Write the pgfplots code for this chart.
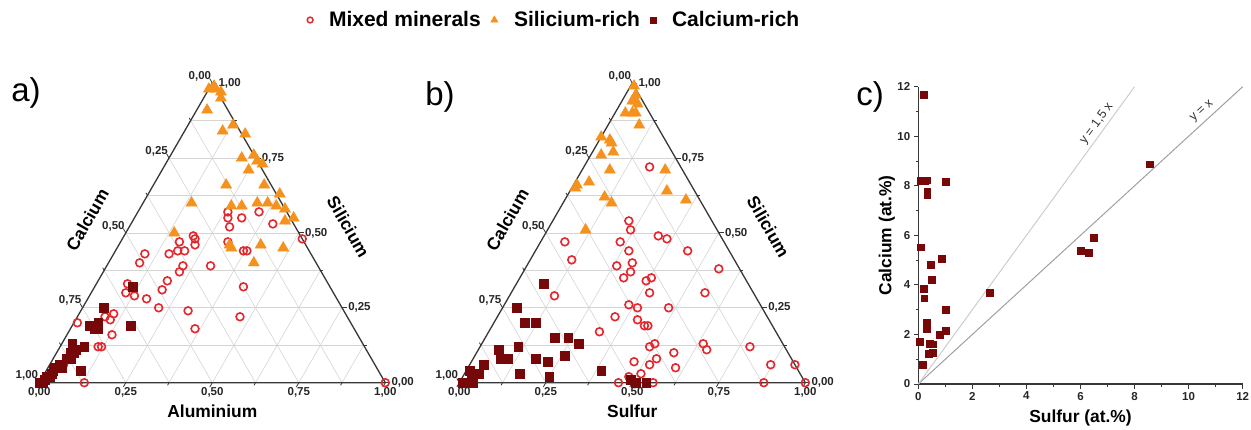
\documentclass[border=0pt]{standalone}
\usepackage{pgfplots}
\usepackage{pgfplotstable}
\pgfplotsset{compat=1.18}
\usepackage{fontspec}
\setmainfont{Liberation Sans}
\definecolor{cred}{RGB}{228,38,45}
\definecolor{corange}{RGB}{245,146,30}
\definecolor{cdark}{RGB}{118,8,10}
\definecolor{cgrid}{RGB}{212,212,212}
\definecolor{cedge}{RGB}{55,55,55}

% ---------- panel a: (Al, Si) fractions, Ca = 1 - Al - Si ----------
\pgfplotstableread[row sep=\\]{
A Si\\
0.26 0.57\\ 0.27 0.55\\ 0.31 0.55\\ 0.35 0.57\\ 0.41 0.53\\ 0.29 0.52\\
0.20 0.49\\ 0.21 0.48\\ 0.22 0.46\\ 0.17 0.47\\ 0.16 0.43\\ 0.18 0.44\\
0.20 0.44\\ 0.09 0.43\\ 0.09 0.40\\ 0.31 0.47\\ 0.37 0.44\\ 0.38 0.44\\
0.30 0.39\\ 0.22 0.39\\ 0.22 0.37\\ 0.20 0.34\\ 0.09 0.33\\ 0.10 0.30\\
0.13 0.29\\ 0.17 0.28\\ 0.20 0.31\\ 0.22 0.25\\ 0.31 0.24\\ 0.43 0.32\\
0.47 0.22\\ 0.36 0.18\\ 0.10 0.23\\ 0.08 0.22\\ 0.10 0.21\\ 0.01 0.20\\
0.13 0.16\\ 0.11 0.12\\ 0.12 0.12\\ 0.52 0.48\\ 0.13 0.00\\ 1.00 0.00\\
0.04 0.06\\
}\mixA
\pgfplotstableread[row sep=\\]{
A Si\\
0.01 0.99\\ 0.00 0.98\\ 0.02 0.98\\ 0.04 0.97\\ 0.05 0.95\\ 0.03 0.91\\
0.11 0.84\\ 0.13 0.86\\ 0.18 0.83\\ 0.21 0.75\\ 0.24 0.76\\ 0.26 0.74\\
0.28 0.73\\ 0.25 0.71\\ 0.21 0.66\\ 0.32 0.66\\ 0.38 0.63\\ 0.14 0.60\\
0.26 0.59\\ 0.29 0.59\\ 0.33 0.60\\ 0.36 0.60\\ 0.39 0.59\\ 0.42 0.58\\
0.44 0.54\\ 0.46 0.55\\ 0.14 0.50\\ 0.32 0.46\\ 0.33 0.45\\ 0.41 0.46\\
0.48 0.45\\ 0.42 0.40\\
}\siA
\pgfplotstableread[row sep=\\]{
A Si\\
0.11 0.32\\ 0.06 0.25\\ 0.17 0.19\\ 0.05 0.19\\ 0.07 0.18\\ 0.07 0.20\\
0.08 0.18\\ 0.03 0.13\\ 0.05 0.11\\ 0.07 0.12\\ 0.04 0.10\\ 0.05 0.10\\
0.05 0.08\\ 0.04 0.08\\ 0.03 0.06\\ 0.04 0.05\\ 0.10 0.04\\ 0.02 0.05\\
0.02 0.04\\ 0.02 0.03\\ 0.02 0.02\\ 0.01 0.02\\ 0.01 0.01\\ 0.01 0.00\\
0.00 0.00\\
}\caA
% ---------- panel b: (S, Si) fractions, Ca = 1 - S - Si ----------
\pgfplotstableread[row sep=\\]{
A Si\\
0.19 0.72\\ 0.22 0.54\\ 0.24 0.51\\ 0.33 0.49\\ 0.36 0.48\\ 0.07 0.47\\
0.23 0.47\\ 0.27 0.44\\ 0.12 0.41\\ 0.44 0.44\\ 0.30 0.40\\ 0.26 0.39\\
0.31 0.37\\ 0.56 0.38\\ 0.30 0.35\\ 0.37 0.34\\ 0.38 0.35\\ 0.40 0.30\\
0.56 0.30\\ 0.13 0.29\\ 0.36 0.26\\ 0.39 0.25\\ 0.48 0.25\\ 0.34 0.22\\
0.41 0.21\\ 0.44 0.19\\ 0.45 0.19\\ 0.32 0.17\\ 0.50 0.13\\ 0.49 0.12\\
0.64 0.13\\ 0.66 0.11\\ 0.78 0.12\\ 0.57 0.10\\ 0.53 0.08\\ 0.47 0.07\\
0.52 0.06\\ 0.60 0.05\\ 0.87 0.06\\ 0.94 0.06\\ 0.48 0.02\\ 0.51 0.03\\
0.46 0.00\\ 0.56 0.00\\ 0.88 0.00\\ 1.00 0.00\\
}\mixB
\pgfplotstableread[row sep=\\]{
A Si\\
0.01 0.99\\ 0.03 0.96\\ 0.04 0.94\\ 0.05 0.93\\ 0.03 0.94\\ 0.03 0.90\\
0.05 0.90\\ 0.06 0.90\\ 0.09 0.86\\ 0.00 0.82\\ 0.03 0.81\\ 0.04 0.80\\
0.06 0.77\\ 0.03 0.76\\ 0.08 0.71\\ 0.24 0.71\\ 0.01 0.66\\ 0.01 0.65\\
0.04 0.67\\ 0.11 0.62\\ 0.14 0.60\\ 0.28 0.64\\ 0.35 0.61\\ 0.11 0.51\\
}\siB
\pgfplotstableread[row sep=\\]{
A Si\\
0.08 0.33\\ 0.04 0.25\\ 0.09 0.20\\ 0.12 0.20\\ 0.20 0.15\\ 0.24 0.15\\
0.28 0.13\\ 0.06 0.11\\ 0.08 0.08\\ 0.10 0.08\\ 0.11 0.12\\ 0.18 0.08\\
0.22 0.07\\ 0.26 0.09\\ 0.16 0.03\\ 0.25 0.02\\ 0.39 0.04\\ 0.04 0.06\\
0.04 0.03\\ 0.01 0.04\\ 0.03 0.01\\ 0.01 0.00\\ 0.02 0.00\\ 0.04 0.00\\
0.49 0.01\\ 0.51 0.00\\ 0.54 0.00\\
}\caB
% ---------- panel c: Sulfur vs Calcium (at.%) ----------
\pgfplotstableread[row sep=\\]{
S Ca\\
0.19 11.69\\ 0.10 8.21\\ 0.25 8.21\\ 0.33 8.23\\ 1.01 8.17\\ 0.33 7.76\\
0.33 7.63\\ 0.10 5.52\\ 0.46 4.80\\ 0.86 5.07\\ 0.49 4.22\\ 0.21 3.86\\
0.22 3.46\\ 2.63 3.70\\ 1.02 2.99\\ 0.31 2.49\\ 0.31 2.21\\ 1.02 2.15\\
0.78 1.98\\ 0.06 1.70\\ 0.41 1.64\\ 0.52 1.61\\ 0.37 1.21\\ 0.52 1.26\\
0.15 0.79\\ 6.02 5.37\\ 6.29 5.30\\ 6.48 5.92\\ 8.57 8.87\\
}\scat

\tikzset{tl/.style={font=\fontsize{11.5}{12}\selectfont\bfseries, text=black!85, inner sep=0pt},
  tlab/.style={font=\fontsize{17.4}{20}\selectfont\bfseries}}

\newcommand{\ternframe}[3]{%
\begin{scope}[shift={(#1,#2)}, x=346pt, y=346pt]
 \foreach \i in {1,...,7}{
   \pgfmathsetmacro{\s}{\i/8}
   \draw[cgrid, line width=0.6pt] ({\s/2},{0.8660254*\s}) -- ({1-\s/2},{0.8660254*\s});
   \draw[cgrid, line width=0.6pt] (\s,0) -- ({(1+\s)/2},{0.8660254*(1-\s)});
   \draw[cgrid, line width=0.6pt] ({1-\s},0) -- ({(1-\s)/2},{0.8660254*(1-\s)});
 }
 \foreach \i in {0,...,8}{
   \pgfmathsetmacro{\s}{\i/8}
   \pgfmathsetmacro{\tk}{mod(\i,2)==0 ? 5 : 3}
   \draw[cedge, line width=0.8pt] (\s,0) -- ++(240:\tk pt);
   \draw[cedge, line width=0.8pt] ({1-\s/2},{0.8660254*\s}) -- ++(0:\tk pt);
   \draw[cedge, line width=0.8pt] ({\s/2},{0.8660254*\s}) -- ++(120:\tk pt);
 }
 \draw[cedge, line width=1.3pt, line join=round] (0,0) -- (1,0) -- (0.5,0.8660254) -- cycle;
 \foreach \v/\t in {0/{0,00},0.25/{0,25},0.5/{0,50},0.75/{0,75},1/{1,00}}{
   \node[tl, anchor=north, yshift=-4.5pt] at (\v,0) {\t};
   \node[tl, anchor=west, xshift=6pt] at ({1-\v/2},{0.8660254*\v}) {\t};
   \node[tl, anchor=east, xshift=-1pt, yshift=7pt] at ({(1-\v)/2},{0.8660254*(1-\v)}) {\t};
 }
 \node[tlab] at (0.5,-0.084) {#3};
 \node[tlab, rotate=60] at (0.139,0.471) {Calcium};
 \node[tlab, rotate=-60] at (0.893,0.451) {Silicium};
\end{scope}}

\pgfplotsset{tern/.style={anchor=south west, scale only axis, width=346pt, height=299.65pt,
  xmin=0, xmax=1, ymin=0, ymax=0.8660254, hide axis, clip=false},
  mixst/.style={only marks, mark=o, mark size=3.9pt, cred, line width=1.6pt},
  sist/.style={only marks, mark=triangle*, mark size=6.4pt, corange},
  cast/.style={only marks, mark=square*, mark size=4.4pt, cdark}}

\begin{document}
\begin{tikzpicture}
\useasboundingbox (0,0) rectangle (1251pt,429pt);
\ternframe{39.3pt}{46.3pt}{Aluminium}
\ternframe{459.3pt}{46.3pt}{Sulfur}

\begin{axis}[tern, at={(39.3pt,46.3pt)},
  legend style={at={(1.4883,1.2104)}, anchor=center, draw=none, fill=none,
    font=\fontsize{21}{24}\selectfont\bfseries, inner sep=0pt,
    /tikz/every odd column/.append style={column sep=14pt},
    /tikz/every even column/.append style={column sep=8pt}},
  legend columns=3]
  \addlegendimage{only marks, mark=o, mark size=2.9pt, cred, line width=1.5pt}
  \addlegendentry{Mixed minerals}
  \addlegendimage{only marks, mark=triangle*, mark size=4.2pt, corange}
  \addlegendentry{Silicium-rich}
  \addlegendimage{only marks, mark=square*, mark size=3pt, cdark}
  \addlegendentry{Calcium-rich}
  \addplot[mixst, forget plot] table[x expr=\thisrow{A}+0.5*\thisrow{Si}, y expr=0.8660254*\thisrow{Si}] {\mixA};
  \addplot[sist, forget plot] table[x expr=\thisrow{A}+0.5*\thisrow{Si}, y expr=0.8660254*\thisrow{Si}] {\siA};
  \addplot[cast, forget plot] table[x expr=\thisrow{A}+0.5*\thisrow{Si}, y expr=0.8660254*\thisrow{Si}] {\caA};
\end{axis}

\begin{axis}[tern, at={(459.3pt,46.3pt)}]
  \addplot[mixst] table[x expr=\thisrow{A}+0.5*\thisrow{Si}, y expr=0.8660254*\thisrow{Si}] {\mixB};
  \addplot[sist] table[x expr=\thisrow{A}+0.5*\thisrow{Si}, y expr=0.8660254*\thisrow{Si}] {\siB};
  \addplot[cast] table[x expr=\thisrow{A}+0.5*\thisrow{Si}, y expr=0.8660254*\thisrow{Si}] {\caB};
\end{axis}

\begin{axis}[at={(918.3pt,45pt)}, anchor=south west, scale only axis,
  width=324.4pt, height=297.3pt, xmin=0, xmax=12, ymin=0, ymax=12,
  axis x line*=bottom, axis y line*=left,
  axis line style={-, cedge, line width=1.2pt},
  xtick={0,2,...,12}, ytick={0,2,...,12},
  minor xtick={1,3,...,11}, minor ytick={1,3,...,11},
  tick align=outside, major tick length=4.5pt, minor tick length=2.5pt,
  tick style={cedge, line width=0.9pt},
  ticklabel style={font=\fontsize{11.5}{12}\selectfont\bfseries, text=black!85},
  /pgf/number format/assume math mode=true,
  xlabel={Sulfur (at.\%)}, ylabel={Calcium (at.\%)},
  label style={font=\fontsize{17.4}{20}\selectfont\bfseries},
  xlabel style={at={(axis description cs:0.5,-0.114)}, anchor=center},
  ylabel style={at={(axis description cs:-0.097,0.5)}, anchor=center},
  clip=false]
  \addplot[gray!75, line width=1pt] coordinates {(0,0) (12,12)};
  \addplot[gray!40, line width=1pt] coordinates {(0,0) (8,12)};
  \addplot[only marks, mark=square*, mark size=3.4pt, cdark] table[x=S, y=Ca] {\scat};
  \node[font=\fontsize{12.5}{13}\selectfont, text=black!80, rotate=54] at (axis cs:6.6,10.5) {y = 1,5 x};
  \node[font=\fontsize{12.5}{13}\selectfont, text=black!80, rotate=42.5] at (axis cs:10.5,11.0) {y = x};
\end{axis}

\node[font=\fontsize{33}{36}\selectfont] at (26pt,336pt) {a)};
\node[font=\fontsize{33}{36}\selectfont] at (440pt,332pt) {b)};
\node[font=\fontsize{33}{36}\selectfont] at (870pt,332.5pt) {c)};
\end{tikzpicture}
\end{document}
